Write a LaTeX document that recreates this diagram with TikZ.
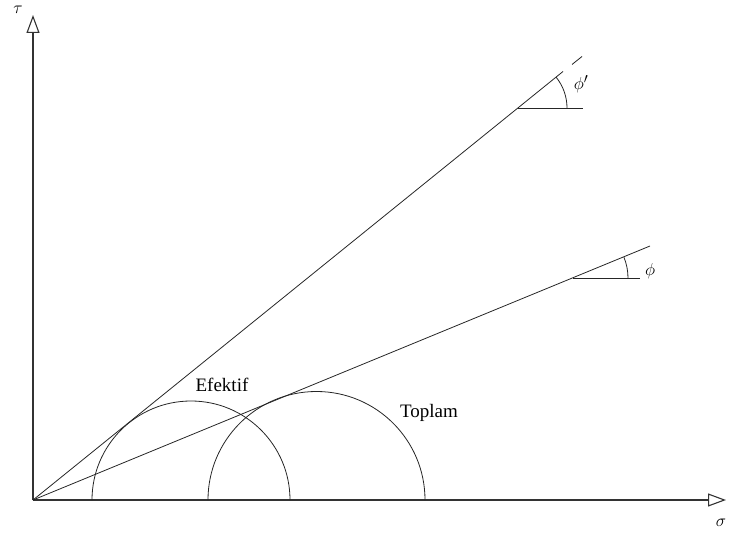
\documentclass[tikz,border=0pt]{standalone}
\usepackage{fontspec}
\setmainfont{Liberation Serif}
\usetikzlibrary{arrows.meta,calc}
\tikzset{
  axis/.style={line width=1.1pt, draw=black!80, -{Triangle[open,length=18pt,width=13pt,line width=1.1pt]}},
  thinline/.style={line width=0.8pt, draw=black!85},
  lbl/.style={font=\fontsize{19}{22}\selectfont, inner sep=0pt},
  sym/.style={font=\fontsize{19}{22}\selectfont, inner sep=0pt}
}
\begin{document}
\begin{tikzpicture}[x=1pt,y=-1pt]
\useasboundingbox (0,0) rectangle (730,540);
% coordinates
\coordinate (O) at (33,500);
\coordinate (Ytip) at (33,15);
\coordinate (Xtip) at (726,500);
\coordinate (U1) at (563,71.5);
\coordinate (U2) at (572,64.5);
\coordinate (U3) at (582,56.5);
\coordinate (UV) at (518,108);
\coordinate (UH) at (583,108);
\coordinate (L1) at (650,246);
\coordinate (LV) at (573,278);
\coordinate (LH) at (640,278);
% axes
\draw[axis] (O) -- (Ytip);
\draw[axis] (O) -- (Xtip);
% envelope lines
\draw[thinline] (O) -- (U1);
\draw[thinline] (U2) -- (U3);
\draw[thinline] (O) -- (L1);
% angle markers
\draw[thinline] (UV) -- (UH);
\draw[thinline] (UV) ++(49,0) arc[start angle=0, end angle=-38.9, radius=49];
\draw[thinline] (LV) -- (LH);
\draw[thinline] (LV) ++(55,0) arc[start angle=0, end angle=-22.3, radius=55];
% Mohr circles
\draw[thinline] (92,500) arc[start angle=180, end angle=360, radius=99];
\draw[thinline] (208,500) arc[start angle=180, end angle=360, radius=108.5];
% labels
\node[sym, font=\fontsize{17}{20}\selectfont] (tau) at (18,10) {$\tau$};
\node[sym, font=\fontsize{17}{20}\selectfont] (sigma) at (721,523) {$\sigma$};
\node[sym] (phip) at (581,84) {$\phi'$};
\node[sym] (phi) at (650,271) {$\phi$};
\node[lbl] (ef) at (222,385) {Efektif};
\node[lbl] (top) at (429,413) {Toplam};
\end{tikzpicture}
\end{document}
